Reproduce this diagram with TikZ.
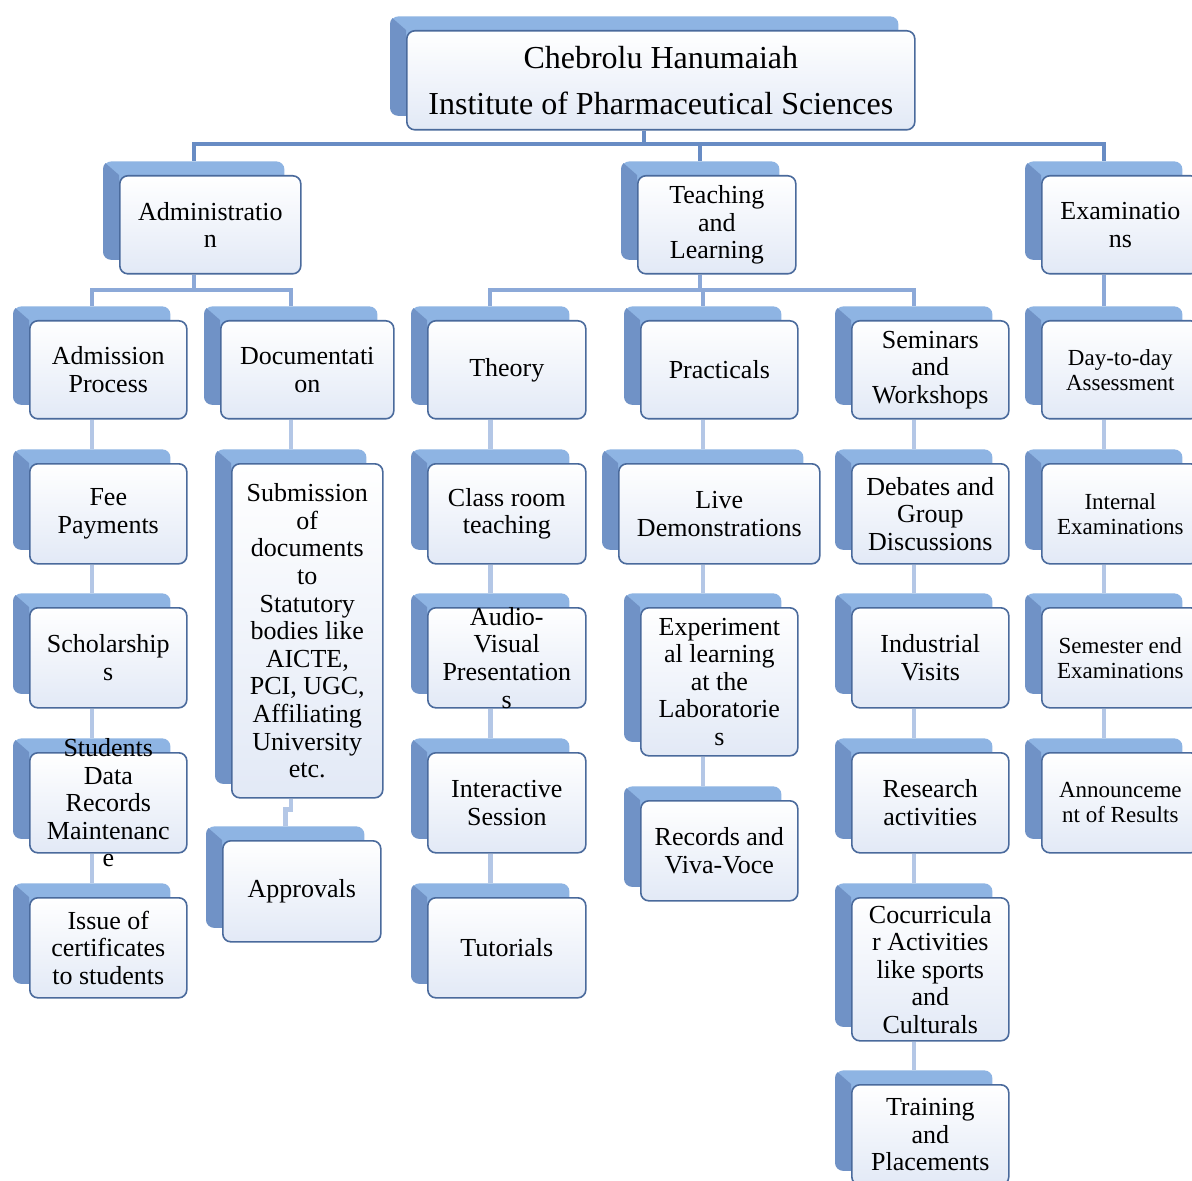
\documentclass[tikz,border=0pt]{standalone}
\usepackage{fontspec}
\setmainfont{Liberation Serif}
\usetikzlibrary{backgrounds}

\definecolor{backblue}{RGB}{142,180,227}
\definecolor{sideblue}{RGB}{112,146,198}
\definecolor{edgeblue}{RGB}{74,106,156}
\definecolor{faceblue}{RGB}{226,233,246}
\definecolor{topline}{RGB}{104,140,196}
\definecolor{midline}{RGB}{140,169,216}
\definecolor{lowline}{RGB}{180,199,230}

\tikzset{
    backbox/.style={rectangle, rounded corners=4pt, fill=backblue, anchor=north west, inner sep=0pt},
    frontbox/.style={rectangle, rounded corners=4pt, draw=edgeblue, line width=0.8pt,
        top color=white, bottom color=faceblue, anchor=north west, inner sep=0pt},
    boxtext/.style={align=center, inner sep=0pt, font=\fontsize{13}{13.8}\selectfont},
    smalltext/.style={font=\fontsize{11.5}{12.5}\selectfont},
    titletext/.style={font=\fontsize{16}{23}\selectfont},
    toplink/.style={draw=topline, line width=2pt},
    midlink/.style={draw=midline, line width=2pt},
    lowlink/.style={draw=lowline, line width=2.4pt}
}

% \orgbox[text style]{name}{left}{top}{width}{height}{text}
\newcommand{\orgbox}[7][]{%
    \node[backbox, minimum width=#5*0.5pt, minimum height=#6*0.5pt] (#2-b) at (#3-16,#4-14) {};
    \begin{scope}
        \clip[rounded corners=4pt] (#2-b.north west) rectangle (#2-b.south east);
        \fill[sideblue] (#2-b.north west) -- ++(16,14) -- ++(0,#6) -- ++(-16,0) -- cycle;
    \end{scope}
    \node[frontbox, minimum width=#5*0.5pt, minimum height=#6*0.5pt] (#2) at (#3,#4) {};
    \node[boxtext, #1] (#2-t) at (#2.center) {#7};
}

\begin{document}
\begin{tikzpicture}[x=0.5pt, y=-0.5pt]
\useasboundingbox (0,0) rectangle (1192,1181);

\orgbox[titletext]{title}{406}{30}{508}{99}{Chebrolu Hanumaiah\\Institute of Pharmaceutical Sciences}

\orgbox{admin}{119}{175}{181}{98}{Administratio\\n}
\orgbox{teach}{637}{175}{158}{98}{Teaching\\and\\Learning}
\orgbox{exam}{1041}{175}{157}{98}{Examinatio\\ns}

\orgbox{adm}{29}{320}{157}{98}{Admission\\Process}
\orgbox{doc}{220}{320}{173}{98}{Documentati\\on}
\orgbox{theory}{427}{320}{158}{98}{Theory}
\orgbox{prac}{640}{320}{157}{98}{Practicals}
\orgbox{sem}{851}{320}{157}{98}{Seminars\\and\\Workshops}
\orgbox[smalltext]{day}{1041}{320}{157}{98}{Day-to-day\\Assessment}

\orgbox{fee}{29}{463}{157}{100}{Fee\\Payments}
\orgbox{schol}{29}{607}{157}{100}{Scholarship\\s}
\orgbox{sdrm}{29}{752}{157}{100}{Students\\Data\\Records\\Maintenanc\\e}
\orgbox{issue}{29}{897}{157}{100}{Issue of\\certificates\\to students}

\orgbox{subm}{231}{463}{151}{334}{Submission\\of\\documents\\to\\Statutory\\bodies like\\AICTE,\\PCI, UGC,\\Affiliating\\University\\etc.}
\orgbox{appr}{222}{840}{158}{101}{Approvals}

\orgbox{class}{427}{463}{158}{100}{Class room\\teaching}
\orgbox{av}{427}{607}{158}{100}{Audio-\\Visual\\Presentation\\s}
\orgbox{inter}{427}{752}{158}{100}{Interactive\\Session}
\orgbox{tut}{427}{897}{158}{100}{Tutorials}

\orgbox{live}{618}{463}{201}{100}{Live\\Demonstrations}
\orgbox{expt}{640}{607}{157}{148}{Experiment\\al learning\\at the\\Laboratorie\\s}
\orgbox{rec}{640}{800}{157}{100}{Records and\\Viva-Voce}

\orgbox{deb}{851}{463}{157}{100}{Debates and\\Group\\Discussions}
\orgbox{ind}{851}{607}{157}{100}{Industrial\\Visits}
\orgbox{res}{851}{752}{157}{100}{Research\\activities}
\orgbox{cocu}{851}{897}{157}{143}{Cocurricula\\r Activities\\like sports\\and\\Culturals}
\orgbox{train}{851}{1084}{157}{100}{Training\\and\\Placements}

\orgbox[smalltext]{intexam}{1041}{463}{157}{100}{Internal\\Examinations}
\orgbox[smalltext]{semend}{1041}{607}{157}{100}{Semester end\\Examinations}
\orgbox[smalltext]{ann}{1041}{752}{157}{100}{Announceme\\nt of Results}

\begin{scope}[on background layer]
    \fill[white] (0,0) rectangle (1192,1181);
    \coordinate (bus0) at (0,144);
    \coordinate (bus1) at (0,290);
    \draw[toplink] (title-b.center |- title.south) -- (title-b.center |- bus0);
    \draw[toplink] (admin-b.north) -- (admin-b.north |- bus0) -- (exam-b.north |- bus0) -- (exam-b.north);
    \draw[toplink] (teach-b.north) -- (teach-b.north |- bus0);
    \draw[midlink] (admin-b.center |- admin.south) -- (admin-b.center |- bus1);
    \draw[midlink] (adm-b.north) -- (adm-b.north |- bus1) -- (doc-b.north |- bus1) -- (doc-b.north);
    \draw[midlink] (teach-b.center |- teach.south) -- (teach-b.center |- bus1);
    \draw[midlink] (theory-b.north) -- (theory-b.north |- bus1) -- (sem-b.north |- bus1) -- (sem-b.north);
    \draw[midlink] (prac-b.north) -- (prac-b.north |- bus1);
    \draw[midlink] (exam-b.center |- exam.south) -- (exam-b.center |- day-b.north);
    \foreach \a/\b in {adm/fee, fee/schol, schol/sdrm, sdrm/issue, doc/subm,
            theory/class, class/av, av/inter, inter/tut,
            prac/live, live/expt, expt/rec,
            sem/deb, deb/ind, ind/res, res/cocu, cocu/train,
            day/intexam, intexam/semend, semend/ann}
        \draw[lowlink] (\a-b.center |- \a.south) -- (\a-b.center |- \b-b.north);
    \draw[lowlink] (subm-b.center |- subm.south) -- ++(0,11) -| (appr-b.north);
\end{scope}
\end{tikzpicture}
\end{document}
